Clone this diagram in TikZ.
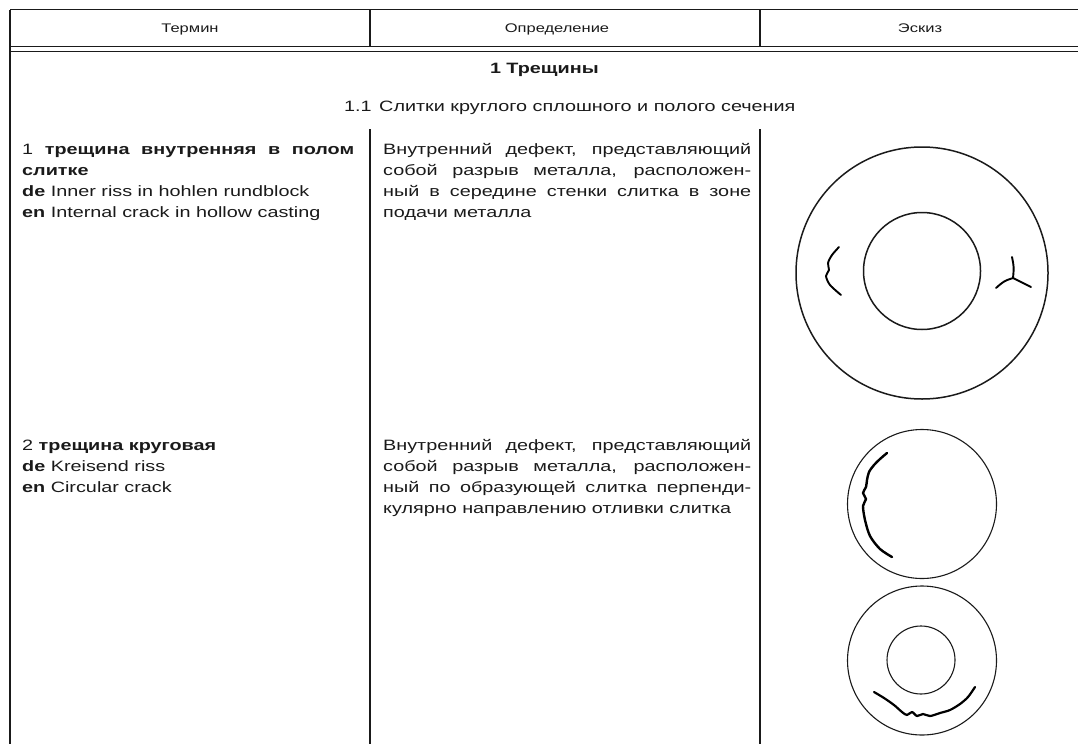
\documentclass[tikz,border=0pt]{standalone}
\usepackage{fontspec}
\setmainfont{Liberation Sans}[FakeStretch = 1.32]
\usepackage{xcolor}
\definecolor{ink}{HTML}{1A1A1A}

\begin{document}
\begin{tikzpicture}[x = 1pt, y = -1pt,
    rule/.style = {line width = 1.2pt, color = ink},
    thinrule/.style = {line width = 0.9pt, color = ink},
    sketch/.style = {line width = 1.5pt, color = ink},
    thinsketch/.style = {line width = 1.1pt, color = ink},
    crack/.style = {line width = 1.9pt, line cap = round, line join = round, color = black},
    headtext/.style = {anchor = base, inner sep = 0pt, text = ink, font = \fontsize{12.5}{15}\selectfont},
    cell/.style = {anchor = north west, inner sep = 0pt, align = justify, text = ink, font = \fontsize{15}{21}\selectfont}]
      \useasboundingbox (0, 0) rectangle (1078, 744);
      \draw[rule] (10, 9.6) -- (1078, 9.6);
      \draw[thinrule] (10, 46.5) -- (1078, 46.5);
      \draw[thinrule] (10, 51) -- (1078, 51);
      \draw[rule] (10, 9.6) -- (10, 744);
      \draw[rule] (370, 9.6) -- (370, 46.5);
      \draw[rule] (760, 9.6) -- (760, 46.5);
      \draw[rule] (370, 129) -- (370, 744);
      \draw[rule] (760, 129) -- (760, 744);
      \node[headtext] (hterm) at (190, 32) {Термин};
      \node[headtext] (hdef) at (557, 32) {Определение};
      \node[headtext] (hsketch) at (920, 32) {Эскиз};
      \node[anchor = base west, inner sep = 0pt, text = ink, font = \bfseries\fontsize{15}{18}\selectfont] (sec) at (490, 73.4) {1\hspace{0.35em}Трещины};
      \node[anchor = base west, inner sep = 0pt, text = ink, font = \fontsize{15}{18}\selectfont] (subsec) at (344, 111.4) {1.1\hspace{0.5em}Слитки круглого сплошного и полого сечения};
      \node[cell, text width = 332pt] (term1) at (22, 143.5) {1 \textbf{трещина внутренняя в полом}\linebreak
        \textbf{слитке}\\
        \textbf{de} Inner riss in hohlen rundblock\\
        \textbf{en} Internal crack in hollow casting};
      \node[cell, text width = 368pt] (def1) at (383, 143.5) {Внутренний дефект, представляющий\linebreak
        собой разрыв металла, расположен-\linebreak
        ный в середине стенки слитка в зоне\linebreak
        подачи металла};
      \node[cell, text width = 332pt] (term2) at (22, 439.5) {2 \textbf{трещина круговая}\\
        \textbf{de} Kreisend riss\\
        \textbf{en} Circular crack};
      \node[cell, text width = 368pt] (def2) at (383, 439.5) {Внутренний дефект, представляющий\linebreak
        собой разрыв металла, расположен-\linebreak
        ный по образующей слитка перпенди-\linebreak
        кулярно направлению отливки слитка};
      \draw[sketch] (922, 273) circle[radius = 126];
      \draw[sketch] (922, 271) circle[radius = 58.5];
      \draw[crack] plot[smooth] coordinates {(839, 247) (832, 255) (828, 263) (829, 270) (826, 276) (830, 285) (841, 295)};
      \draw[crack] (1012, 257) .. controls (1014, 267) .. (1013, 278);
      \draw[crack] (996, 288) .. controls (1004, 281) .. (1013, 278);
      \draw[crack] (1031, 287) .. controls (1022, 282) .. (1013, 278);
      \draw[thinsketch] (922, 504) circle[radius = 74.5];
      \draw[crack, line width = 2.4pt] plot[smooth] coordinates {(887, 453) (880, 459) (874, 465) (869, 472) (867, 480) (866, 487) (863, 493) (866, 499) (863, 506) (865, 520) (870, 536) (880, 549) (892, 557)};
      \draw[thinsketch] (922, 660.5) circle[radius = 74.5];
      \draw[thinsketch] (921, 660) circle[radius = 34];
      \draw[crack, line width = 2.2pt] plot[smooth] coordinates {(874, 692) (884, 698) (894, 705) (902, 712) (907, 715) (912, 712) (917, 716) (923, 714) (930, 716) (940, 713) (950, 710) (960, 704) (968, 697) (975, 687)};
\end{tikzpicture}
\end{document}
